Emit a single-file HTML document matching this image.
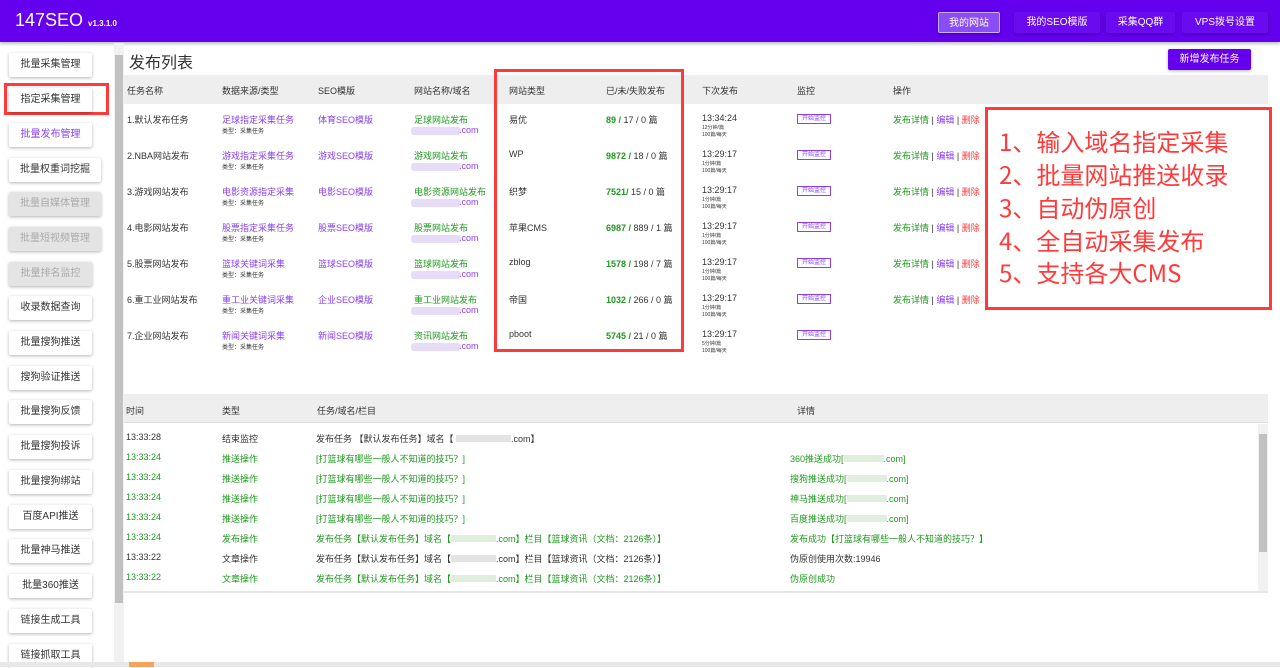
<!DOCTYPE html>
<html><head><meta charset="utf-8">
<style>
*{margin:0;padding:0;box-sizing:border-box}
body{width:1280px;height:667px;overflow:hidden;background:#fff;font-family:"Liberation Sans","Noto Sans CJK SC",sans-serif;color:#333;position:relative}
.a{position:absolute;white-space:nowrap}
.hdr{position:absolute;left:0;top:0;width:1280px;height:42px;background:#6400ee;box-shadow:0 2px 3px rgba(0,0,0,.25)}
.hb{position:absolute;top:12px;height:21px;color:#fff;font-size:10px;line-height:21px;text-align:center;background:#6a0af0;box-shadow:0 1px 3px rgba(0,0,0,.35);border-radius:2px}
.sb{position:absolute;left:9px;height:24px;background:#fff;font-size:10px;line-height:24px;text-align:center;color:#333;box-shadow:0 1px 3px rgba(0,0,0,.3);border-radius:2px}
.sb.d{background:#e4e4e4;color:#aaa}
.t{font-size:9px;position:absolute;white-space:nowrap}
.s{font-size:6px;position:absolute;white-space:nowrap;color:#333}
.p{color:#8a3ff0}.g{color:#1e9a1e}.r{color:#ff3a3a}
.blur{position:absolute;height:8px;background:#e6dcf7;border-radius:3px}
.mon{position:absolute;font-size:6px;color:#8a3ff0;border:1px solid #8a3ff0;height:10px;width:34px;line-height:8px;text-align:center;white-space:nowrap}
.big{position:absolute;left:999px;font-size:24px;color:#ff3a3a;white-space:nowrap;font-family:"Noto Sans CJK SC",sans-serif;line-height:30px}
</style></head><body>
<div class="hdr"></div>
<div class="a" style="left:15px;top:10px;color:#fff;font-size:18px">147SEO <span style="font-size:8px;font-weight:bold">v1.3.1.0</span></div>
<div class="hb" style="left:938px;width:62px;background:#8a4cf5;border:1px solid #c9b0ff">我的网站</div>
<div class="hb" style="left:1014px;width:86px">我的SEO模版</div>
<div class="hb" style="left:1106px;width:69px">采集QQ群</div>
<div class="hb" style="left:1182px;width:86px">VPS拨号设置</div>

<div class="sb" style="top:53px;width:83px">批量采集管理</div>
<div style="position:absolute;left:4px;top:83px;width:105px;height:32px;border:3px solid #ff3a3a"></div>
<div class="sb" style="top:88px;width:83px">指定采集管理</div>
<div class="sb p" style="top:123px;width:83px;color:#8a3ff0">批量发布管理</div>
<div class="sb" style="top:158px;width:92px">批量权重词挖掘</div>
<div class="sb d" style="top:192px;width:92px">批量自媒体管理</div>
<div class="sb d" style="top:227px;width:92px">批量短视频管理</div>
<div class="sb d" style="top:262px;width:83px">批量排名监控</div>
<div class="sb" style="top:296px;width:83px">收录数据查询</div>
<div class="sb" style="top:331px;width:83px">批量搜狗推送</div>
<div class="sb" style="top:366px;width:83px">搜狗验证推送</div>
<div class="sb" style="top:400px;width:83px">批量搜狗反馈</div>
<div class="sb" style="top:435px;width:83px">批量搜狗投诉</div>
<div class="sb" style="top:470px;width:83px">批量搜狗绑站</div>
<div class="sb" style="top:505px;width:83px">百度API推送</div>
<div class="sb" style="top:539px;width:83px">批量神马推送</div>
<div class="sb" style="top:574px;width:83px">批量360推送</div>
<div class="sb" style="top:609px;width:83px">链接生成工具</div>
<div class="sb" style="top:644px;width:83px">链接抓取工具</div>
<div style="position:absolute;left:114px;top:43px;width:10px;height:624px;background:#f1f1f1"></div>
<div style="position:absolute;left:115px;top:55px;width:8px;height:548px;background:#c1c1c1"></div>

<div class="a" style="left:129px;top:49px;font-size:16px;color:#333">发布列表</div>
<div class="a" style="left:1168px;top:49px;width:83px;height:21px;background:#6400ee;color:#fff;font-size:10px;line-height:21px;text-align:center;border-radius:2px;box-shadow:0 1px 3px rgba(0,0,0,.3)">新增发布任务</div>

<div style="position:absolute;left:124px;top:75px;width:1144px;height:29px;background:#eee"></div>
<div class="t" style="left:127px;top:84px">任务名称</div>
<div class="t" style="left:222px;top:84px">数据来源/类型</div>
<div class="t" style="left:318px;top:84px">SEO模版</div>
<div class="t" style="left:414px;top:84px">网站名称/域名</div>
<div class="t" style="left:509px;top:84px">网站类型</div>
<div class="t" style="left:606px;top:84px">已/未/失败发布</div>
<div class="t" style="left:702px;top:84px">下次发布</div>
<div class="t" style="left:797px;top:84px">监控</div>
<div class="t" style="left:893px;top:84px">操作</div>

<div style="position:absolute;left:0;top:113px">
<div class="t" style="left:127px;top:0">1.默认发布任务</div><div class="t p" style="left:222px;top:0">足球指定采集任务</div><div class="s" style="left:222px;top:13px">类型：采集任务</div><div class="t p" style="left:318px;top:0">体育SEO模版</div><div class="t g" style="left:414px;top:0">足球网站发布</div><div class="blur" style="left:411px;top:14px;width:50px"></div><div class="t p" style="left:459px;top:12px">.com</div><div class="t" style="left:509px;top:0">易优</div><div class="t" style="left:606px;top:0"><b class="g">89 /</b> 17 / 0 篇</div><div class="t" style="left:702px;top:0">13:34:24</div><div class="s" style="left:702px;top:11px;font-size:5px">12分钟/篇<br>100篇/每天</div><div class="mon" style="left:797px;top:1px">开始监控</div><div class="t" style="left:893px;top:0"><span class="g">发布详情</span> | <span class="p">编辑</span> | <span class="r">删除</span></div>
</div>
<div style="position:absolute;left:0;top:149px">
<div class="t" style="left:127px;top:0">2.NBA网站发布</div><div class="t p" style="left:222px;top:0">游戏指定采集任务</div><div class="s" style="left:222px;top:13px">类型：采集任务</div><div class="t p" style="left:318px;top:0">游戏SEO模版</div><div class="t g" style="left:414px;top:0">游戏网站发布</div><div class="blur" style="left:411px;top:14px;width:50px"></div><div class="t p" style="left:459px;top:12px">.com</div><div class="t" style="left:509px;top:0">WP</div><div class="t" style="left:606px;top:0"><b class="g">9872 /</b> 18 / 0 篇</div><div class="t" style="left:702px;top:0">13:29:17</div><div class="s" style="left:702px;top:11px;font-size:5px">1分钟/篇<br>100篇/每天</div><div class="mon" style="left:797px;top:1px">开始监控</div><div class="t" style="left:893px;top:0"><span class="g">发布详情</span> | <span class="p">编辑</span> | <span class="r">删除</span></div>
</div>
<div style="position:absolute;left:0;top:185px">
<div class="t" style="left:127px;top:0">3.游戏网站发布</div><div class="t p" style="left:222px;top:0">电影资源指定采集</div><div class="s" style="left:222px;top:13px">类型：采集任务</div><div class="t p" style="left:318px;top:0">电影SEO模版</div><div class="t g" style="left:414px;top:0">电影资源网站发布</div><div class="blur" style="left:411px;top:14px;width:50px"></div><div class="t p" style="left:459px;top:12px">.com</div><div class="t" style="left:509px;top:0">织梦</div><div class="t" style="left:606px;top:0"><b class="g">7521/</b> 15 / 0 篇</div><div class="t" style="left:702px;top:0">13:29:17</div><div class="s" style="left:702px;top:11px;font-size:5px">1分钟/篇<br>100篇/每天</div><div class="mon" style="left:797px;top:1px">开始监控</div><div class="t" style="left:893px;top:0"><span class="g">发布详情</span> | <span class="p">编辑</span> | <span class="r">删除</span></div>
</div>
<div style="position:absolute;left:0;top:221px">
<div class="t" style="left:127px;top:0">4.电影网站发布</div><div class="t p" style="left:222px;top:0">股票指定采集任务</div><div class="s" style="left:222px;top:13px">类型：采集任务</div><div class="t p" style="left:318px;top:0">股票SEO模版</div><div class="t g" style="left:414px;top:0">股票网站发布</div><div class="blur" style="left:411px;top:14px;width:50px"></div><div class="t p" style="left:459px;top:12px">.com</div><div class="t" style="left:509px;top:0">苹果CMS</div><div class="t" style="left:606px;top:0"><b class="g">6987 /</b> 889 / 1 篇</div><div class="t" style="left:702px;top:0">13:29:17</div><div class="s" style="left:702px;top:11px;font-size:5px">1分钟/篇<br>100篇/每天</div><div class="mon" style="left:797px;top:1px">开始监控</div><div class="t" style="left:893px;top:0"><span class="g">发布详情</span> | <span class="p">编辑</span> | <span class="r">删除</span></div>
</div>
<div style="position:absolute;left:0;top:257px">
<div class="t" style="left:127px;top:0">5.股票网站发布</div><div class="t p" style="left:222px;top:0">篮球关键词采集</div><div class="s" style="left:222px;top:13px">类型：采集任务</div><div class="t p" style="left:318px;top:0">篮球SEO模版</div><div class="t g" style="left:414px;top:0">篮球网站发布</div><div class="blur" style="left:411px;top:14px;width:50px"></div><div class="t p" style="left:459px;top:12px">.com</div><div class="t" style="left:509px;top:0">zblog</div><div class="t" style="left:606px;top:0"><b class="g">1578 /</b> 198 / 7 篇</div><div class="t" style="left:702px;top:0">13:29:17</div><div class="s" style="left:702px;top:11px;font-size:5px">1分钟/篇<br>100篇/每天</div><div class="mon" style="left:797px;top:1px">开始监控</div><div class="t" style="left:893px;top:0"><span class="g">发布详情</span> | <span class="p">编辑</span> | <span class="r">删除</span></div>
</div>
<div style="position:absolute;left:0;top:293px">
<div class="t" style="left:127px;top:0">6.重工业网站发布</div><div class="t p" style="left:222px;top:0">重工业关键词采集</div><div class="s" style="left:222px;top:13px">类型：采集任务</div><div class="t p" style="left:318px;top:0">企业SEO模版</div><div class="t g" style="left:414px;top:0">重工业网站发布</div><div class="blur" style="left:411px;top:14px;width:50px"></div><div class="t p" style="left:459px;top:12px">.com</div><div class="t" style="left:509px;top:0">帝国</div><div class="t" style="left:606px;top:0"><b class="g">1032 /</b> 266 / 0 篇</div><div class="t" style="left:702px;top:0">13:29:17</div><div class="s" style="left:702px;top:11px;font-size:5px">1分钟/篇<br>100篇/每天</div><div class="mon" style="left:797px;top:1px">开始监控</div><div class="t" style="left:893px;top:0"><span class="g">发布详情</span> | <span class="p">编辑</span> | <span class="r">删除</span></div>
</div>
<div style="position:absolute;left:0;top:329px">
<div class="t" style="left:127px;top:0">7.企业网站发布</div><div class="t p" style="left:222px;top:0">新闻关键词采集</div><div class="s" style="left:222px;top:13px">类型：采集任务</div><div class="t p" style="left:318px;top:0">新闻SEO模版</div><div class="t g" style="left:414px;top:0">资讯网站发布</div><div class="blur" style="left:411px;top:14px;width:50px"></div><div class="t p" style="left:459px;top:12px">.com</div><div class="t" style="left:509px;top:0">pboot</div><div class="t" style="left:606px;top:0"><b class="g">5745 /</b> 21 / 0 篇</div><div class="t" style="left:702px;top:0">13:29:17</div><div class="s" style="left:702px;top:11px;font-size:5px">5分钟/篇<br>100篇/每天</div><div class="mon" style="left:797px;top:1px">开始监控</div>
</div>

<div style="position:absolute;left:494px;top:69px;width:190px;height:283px;border:3px solid #ff3a3a"></div>
<div style="position:absolute;left:985px;top:107px;width:287px;height:203px;border:3px solid #ff3a3a;background:#fff"></div>
<div class="big" style="top:126px">1、输入域名指定采集</div>
<div class="big" style="top:159px">2、批量网站推送收录</div>
<div class="big" style="top:192px">3、自动伪原创</div>
<div class="big" style="top:225px">4、全自动采集发布</div>
<div class="big" style="top:257px">5、支持各大CMS</div>

<div style="position:absolute;left:124px;top:394px;width:1144px;height:29px;background:#eee;border-bottom:1px solid #ddd"></div>
<div class="t" style="left:126px;top:404px">时间</div>
<div class="t" style="left:222px;top:404px">类型</div>
<div class="t" style="left:317px;top:404px">任务/域名/栏目</div>
<div class="t" style="left:797px;top:404px">详情</div>
<div style="position:absolute;left:1258px;top:424px;width:10px;height:167px;background:#f1f1f1"></div>
<div style="position:absolute;left:1259px;top:434px;width:8px;height:118px;background:#c1c1c1"></div>
<div style="position:absolute;left:124px;top:591px;width:1144px;height:2px;background:#e6e6e6"></div>

<div class="t" style="left:126px;top:432px">13:33:28</div><div class="t" style="left:222px;top:432px">结束监控</div><div class="t" style="left:316px;top:432px">发布任务 【默认发布任务】域名【 <span style="display:inline-block;width:55px;height:7px;background:#e4e4e4"></span>.com】</div>
<div class="t g" style="left:126px;top:452px">13:33:24</div><div class="t g" style="left:222px;top:452px">推送操作</div><div class="t g" style="left:316px;top:452px">[打篮球有哪些一般人不知道的技巧？]</div><div class="t g" style="left:790px;top:452px">360推送成功[<span style="display:inline-block;width:40px;height:7px;background:#e0eede"></span>.com]</div>
<div class="t g" style="left:126px;top:472px">13:33:24</div><div class="t g" style="left:222px;top:472px">推送操作</div><div class="t g" style="left:316px;top:472px">[打篮球有哪些一般人不知道的技巧？]</div><div class="t g" style="left:790px;top:472px">搜狗推送成功[<span style="display:inline-block;width:40px;height:7px;background:#e0eede"></span>.com]</div>
<div class="t g" style="left:126px;top:492px">13:33:24</div><div class="t g" style="left:222px;top:492px">推送操作</div><div class="t g" style="left:316px;top:492px">[打篮球有哪些一般人不知道的技巧？]</div><div class="t g" style="left:790px;top:492px">神马推送成功[<span style="display:inline-block;width:40px;height:7px;background:#e0eede"></span>.com]</div>
<div class="t g" style="left:126px;top:512px">13:33:24</div><div class="t g" style="left:222px;top:512px">推送操作</div><div class="t g" style="left:316px;top:512px">[打篮球有哪些一般人不知道的技巧？]</div><div class="t g" style="left:790px;top:512px">百度推送成功[<span style="display:inline-block;width:40px;height:7px;background:#e0eede"></span>.com]</div>
<div class="t g" style="left:126px;top:532px">13:33:24</div><div class="t g" style="left:222px;top:532px">发布操作</div><div class="t g" style="left:316px;top:532px">发布任务【默认发布任务】域名【<span style="display:inline-block;width:45px;height:7px;background:#e0eede"></span>.com】栏目【篮球资讯（文档：2126条）】</div><div class="t g" style="left:790px;top:532px">发布成功【打篮球有哪些一般人不知道的技巧？】</div>
<div class="t" style="left:126px;top:552px">13:33:22</div><div class="t" style="left:222px;top:552px">文章操作</div><div class="t" style="left:316px;top:552px">发布任务【默认发布任务】域名【<span style="display:inline-block;width:45px;height:7px;background:#e4e4e4"></span>.com】栏目【篮球资讯（文档：2126条）】</div><div class="t" style="left:790px;top:552px">伪原创使用次数:19946</div>
<div class="t g" style="left:126px;top:572px">13:33:22</div><div class="t g" style="left:222px;top:572px">文章操作</div><div class="t g" style="left:316px;top:572px">发布任务【默认发布任务】域名【<span style="display:inline-block;width:45px;height:7px;background:#e0eede"></span>.com】栏目【篮球资讯（文档：2126条）】</div><div class="t g" style="left:790px;top:572px">伪原创成功</div>

<div style="position:absolute;left:0;top:662px;width:1280px;height:5px;background:#e8e8e8"></div>
<div style="position:absolute;left:129px;top:662px;width:25px;height:5px;background:#f5a35c"></div>
</body></html>
